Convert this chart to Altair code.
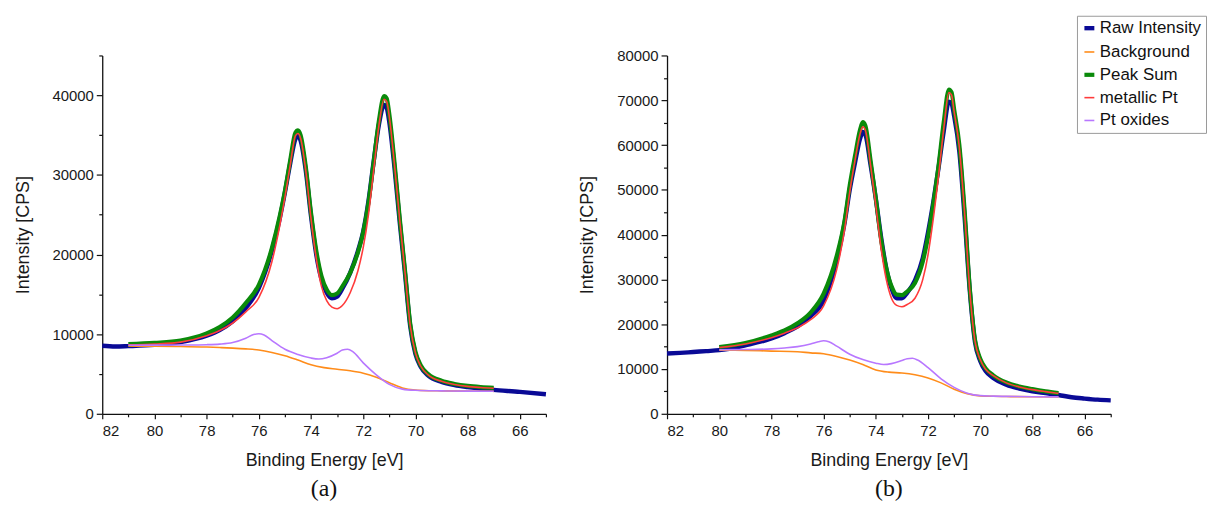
import altair as alt
import pandas as pd

SERIES = ["Raw Intensity", "Background", "Peak Sum", "metallic Pt", "Pt oxides"]
COLORS = ["#0a0a96", "#ff8c1a", "#0a8a0a", "#ff3b3b", "#b877ff"]
WIDTHS = [4.4, 1.6, 4.2, 1.6, 1.6]

# ---------------- panel (a) ----------------
A_RAW_E = [82, 81.5, 81, 80, 79, 78, 77.5, 77, 76.5, 76, 75.5, 75.2, 75, 74.8, 74.6, 74.5, 74.4, 74.2, 74,
           73.8, 73.6, 73.4, 73.2, 73, 72.8, 72.5, 72.2, 72, 71.8, 71.6, 71.4, 71.2, 71.1, 71, 70.8, 70.6,
           70.4, 70.2, 70, 69.8, 69.5, 69, 68.5, 68, 67.5, 67, 66, 65]
A_RAW = [8550, 8450, 8500, 8650, 9000, 9800, 10500, 11600, 13300, 15800, 20500, 24500, 27800, 31400, 34500,
         34900, 34300, 30500, 24800, 20000, 16900, 15200, 14500, 14700, 15700, 17700, 20500, 22900, 26700,
         31700, 36300, 38800, 38400, 36600, 30800, 24000, 17600, 11000, 7500, 5900, 4750, 4000, 3600, 3350,
         3150, 3000, 2750, 2450]

A_FIT_E = [81, 80, 79, 78, 77.5, 77, 76.5, 76, 75.5, 75.2, 75, 74.8, 74.6, 74.5, 74.4, 74.2, 74,
           73.8, 73.6, 73.4, 73.2, 73, 72.8, 72.5, 72.2, 72, 71.8, 71.6, 71.4, 71.2, 71.1, 71, 70.8, 70.6,
           70.4, 70.2, 70, 69.8, 69.5, 69, 68.5, 68, 67.5, 67]
A_SUM = [8750, 8900, 9200, 10100, 10900, 12100, 13900, 16200, 20800, 24800, 28000, 31800, 35300, 35600,
         35000, 31000, 25200, 20500, 17300, 15600, 14900, 15100, 16000, 17700, 20300, 22800, 26500, 31600,
         36800, 39900, 39600, 37600, 31500, 24500, 18000, 11300, 7800, 6100, 4950, 4150, 3750, 3500, 3350, 3250]
A_METAL = [8650, 8760, 9000, 9800, 10450, 11400, 12800, 14600, 19100, 23600, 27200, 31200, 34900, 35200,
           34600, 30500, 24500, 19500, 16000, 14200, 13400, 13200, 13600, 15200, 18000, 20900, 25000, 30600,
           36200, 39500, 39200, 37300, 31200, 24300, 17800, 11100, 7650, 6000, 4850, 4080, 3680, 3440, 3300, 3200]

A_BG_E = [81, 80, 79, 78, 77.5, 77, 76.5, 76, 75.5, 75, 74.5, 74, 73.5, 73, 72.5, 72, 71.5, 71, 70.5, 70,
          69.5, 69, 68, 67]
A_BG = [8500, 8480, 8450, 8380, 8320, 8250, 8150, 8000, 7700, 7300, 6750, 6150, 5800, 5600, 5400, 5100,
        4600, 3900, 3250, 2980, 2900, 2880, 2850, 2820]

A_OX_E = [81, 80, 79, 78, 77.5, 77, 76.5, 76.2, 76, 75.8, 75.5, 75, 74.5, 74, 73.7, 73.4, 73, 72.8, 72.6,
          72.4, 72, 71.5, 71, 70.5, 70, 69, 68, 67]
A_OX = [8600, 8620, 8640, 8680, 8750, 8950, 9500, 9950, 10050, 9900, 9200, 8100, 7450, 7000, 6880, 7050,
        7600, 8000, 8100, 7800, 6400, 4900, 3700, 3100, 2950, 2880, 2850, 2820]

# ---------------- panel (b) ----------------
B_RAW_E = [82, 81.5, 81, 80.5, 80, 79, 78, 77.5, 77, 76.5, 76, 75.5, 75.2, 75, 74.8, 74.6, 74.5, 74.4, 74.2,
           74, 73.8, 73.6, 73.4, 73.2, 73, 72.8, 72.5, 72.2, 72, 71.8, 71.6, 71.4, 71.2, 71.1, 71, 70.8,
           70.6, 70.4, 70.2, 70, 69.8, 69.5, 69, 68.5, 68, 67.5, 67, 66.5, 66, 65.5, 65]
B_RAW = [13450, 13600, 13800, 14000, 14200, 15300, 16800, 18000, 19500, 21800, 25300, 34200, 42500, 50000,
         56000, 61500, 62900, 62300, 55500, 48000, 39500, 32500, 28000, 25800, 25800, 27000, 29800, 34800,
         40500, 47200, 54800, 63000, 69700, 69300, 66500, 58500, 44000, 27500, 16000, 11800, 9600, 8000,
         6500, 5600, 5000, 4600, 4200, 3700, 3400, 3150, 3000]

B_FIT_E = [80, 79, 78, 77.5, 77, 76.5, 76, 75.5, 75.2, 75, 74.8, 74.6, 74.5, 74.4, 74.2, 74,
           73.8, 73.6, 73.4, 73.2, 73, 72.8, 72.5, 72.2, 72, 71.8, 71.6, 71.4, 71.2, 71.1, 71, 70.8, 70.6,
           70.4, 70.2, 70, 69.8, 69.5, 69, 68.5, 68, 67.5, 67]
B_SUM = [14900, 15800, 17500, 18600, 20200, 22600, 26800, 35200, 43000, 51000, 57500, 63500, 65100, 64300,
         56500, 48000, 39000, 32500, 28500, 26600, 26500, 27300, 29200, 34000, 39500, 46700, 55200, 65000,
         72400, 71800, 68000, 60000, 45500, 28000, 16500, 12300, 10200, 8600, 7000, 6100, 5500, 5000, 4600]
B_METAL = [14800, 15600, 17000, 18000, 19200, 21000, 24100, 32200, 41000, 49500, 56500, 62600, 64100, 63300,
           55500, 46500, 37000, 30000, 25800, 24200, 23900, 24400, 25800, 30000, 35500, 43500, 53000, 63500,
           71700, 71200, 67500, 59500, 45000, 27500, 16200, 12100, 10000, 8500, 6900, 6000, 5400, 4950, 4550]

B_BG_E = [80, 79, 78, 77, 76.5, 76, 75.5, 75, 74.5, 74, 73.5, 73, 72.5, 72, 71.5, 71, 70.5, 70, 69.5, 69, 68, 67]
B_BG = [14200, 14150, 14000, 13850, 13600, 13400, 12800, 12000, 11000, 9800, 9300, 9100, 8700, 8000, 6900,
        5500, 4500, 4000, 3900, 3850, 3800, 3750]

B_OX_E = [80, 79, 78, 77.5, 77, 76.5, 76.2, 76, 75.8, 75.5, 75, 74.5, 74, 73.7, 73.4, 73, 72.8, 72.6, 72.4,
          72, 71.5, 71, 70.5, 70, 69.5, 69, 68, 67]
B_OX = [14300, 14350, 14500, 14700, 15000, 15600, 16100, 16300, 16100, 15100, 13300, 12100, 11300, 11000,
        11200, 11900, 12300, 12400, 12000, 10300, 7800, 5900, 4600, 4050, 3950, 3880, 3820, 3770]

X_TICKS = list(range(65, 83))


def frame(parts):
    rows = []
    for name, es, vs in parts:
        for e, v in zip(es, vs):
            rows.append({"E": e, "I": v, "series": name})
    return pd.DataFrame(rows)


LEG = dict(orient="none", legendX=982, legendY=-40, title=None)


def panel(df, ymax, caption):
    yticks = list(range(0, ymax + 1, 5000))
    return alt.Chart(df).mark_line(interpolate="monotone").encode(
        x=alt.X("E:Q",
                scale=alt.Scale(domain=[65, 82], reverse=True, nice=False, zero=False),
                axis=alt.Axis(values=X_TICKS, title="Binding Energy [eV]",
                              labelExpr="datum.value % 2 === 0 ? datum.label : ''",
                              tickSize={"condition": {"test": "datum.value % 2 === 0", "value": 5},
                                        "value": 3})),
        y=alt.Y("I:Q",
                scale=alt.Scale(domain=[0, ymax], nice=False),
                axis=alt.Axis(values=yticks, title="Intensity [CPS]", format="d",
                              labelExpr="datum.value % 10000 === 0 ? datum.label : ''",
                              tickSize={"condition": {"test": "datum.value % 10000 === 0", "value": 6},
                                        "value": 3.5})),
        color=alt.Color("series:N", scale=alt.Scale(domain=SERIES, range=COLORS), legend=alt.Legend(**LEG)),
        strokeWidth=alt.StrokeWidth("series:N", scale=alt.Scale(type="ordinal", domain=SERIES, range=WIDTHS),
                                    legend=alt.Legend(**LEG)),
    ).properties(
        width=447, height=361,
        title=alt.TitleParams(caption, orient="bottom", font="Liberation Serif", fontSize=24,
                              fontWeight="normal", color="#111", offset=8),
    )


dfa = frame([("Raw Intensity", A_RAW_E, A_RAW), ("Background", A_BG_E, A_BG), ("Peak Sum", A_FIT_E, A_SUM),
             ("metallic Pt", A_FIT_E, A_METAL), ("Pt oxides", A_OX_E, A_OX)])
dfb = frame([("Raw Intensity", B_RAW_E, B_RAW), ("Background", B_BG_E, B_BG), ("Peak Sum", B_FIT_E, B_SUM),
             ("metallic Pt", B_FIT_E, B_METAL), ("Pt oxides", B_OX_E, B_OX)])

chart = alt.hconcat(panel(dfa, 45000, "(a)"), panel(dfb, 80000, "(b)"), spacing=122, bounds="flush").properties(
    padding={"left": 14, "top": 13, "right": 0, "bottom": 0}
).configure_view(stroke=None).configure_axis(
    grid=False, domainColor="#111", domainWidth=1.3, tickColor="#111", tickWidth=1.2,
    labelFont="Liberation Sans", labelFontSize=15, labelColor="#1a1a1a", labelPadding=3,
    titleFont="Liberation Sans", titleFontSize=18, titleFontWeight="normal", titleColor="#1a1a1a",
).configure_axisX(titlePadding=13, labelPadding=5).configure_axisY(titlePadding=20).configure_legend(
    labelFont="Liberation Sans", labelFontSize=17, labelColor="#111", symbolType="stroke",
    symbolSize=100, labelOffset=2, rowPadding=5, padding=4, strokeColor="#999", fillColor="white",
    labelLimit=300,
)

chart.save("out.html", embed_options={"renderer": "svg", "actions": False})
